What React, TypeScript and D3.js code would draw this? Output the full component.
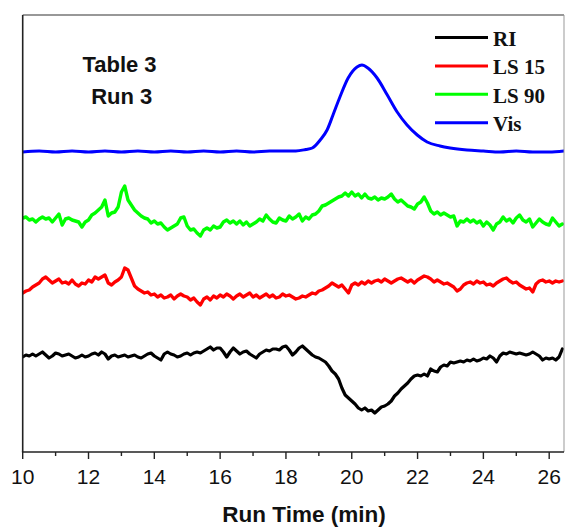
import React from "react";
import * as d3 from "d3";

// Sampling grid for the detector traces (min)
const T_START = 10.0;
const T_STEP = 0.1;
const N_SAMPLES = 165;
const sampleTimes: number[] = d3.range(N_SAMPLES).map((i) => +(T_START + i * T_STEP).toFixed(2));

// LS 90 (green) detector response, relative units
const ls90: number[] = [
  23.4, 23.5, 23.2, 23.3, 23.0, 23.3, 23.5, 23.3, 23.4, 23.0,
  23.4, 23.8, 22.7, 23.3, 23.4, 23.2, 23.1, 23.0, 22.5, 23.0,
  23.2, 23.7, 23.9, 24.2, 24.5, 25.2, 23.6, 23.9, 24.0, 24.5,
  26.0, 26.6, 25.2, 24.7, 24.2, 23.9, 23.6, 23.4, 23.3, 22.9,
  23.1, 22.8, 22.9, 22.5, 22.2, 22.4, 22.6, 22.8, 23.4, 23.5,
  22.6, 22.2, 22.3, 21.9, 21.6, 22.2, 22.4, 22.2, 22.6, 22.4,
  22.5, 23.0, 23.2, 22.9, 23.1, 22.8, 23.1, 22.7, 23.0, 22.6,
  22.8, 23.0, 23.3, 23.1, 23.7, 23.3, 23.0, 22.9, 23.4, 23.2,
  23.1, 23.6, 23.3, 23.5, 23.8, 23.1, 23.5, 23.3, 23.7, 23.8,
  24.1, 24.6, 24.7, 24.9, 25.1, 25.3, 25.5, 25.6, 25.9, 25.6,
  26.0, 25.6, 25.8, 25.4, 25.8, 25.4, 25.3, 25.5, 25.2, 25.4,
  25.3, 25.5, 25.8, 25.3, 25.0, 25.2, 24.9, 24.6, 24.5, 24.3,
  24.8, 25.0, 25.5, 24.9, 24.1, 23.8, 24.0, 23.7, 23.9, 23.7,
  23.5, 23.6, 22.6, 23.1, 23.0, 23.3, 23.0, 23.2, 22.9, 23.1,
  22.6, 23.0, 22.7, 22.2, 22.8, 23.0, 23.5, 23.1, 23.3, 22.9,
  23.4, 23.7, 23.2, 23.0, 23.3, 22.5, 22.9, 23.3, 23.0, 22.8,
  22.7, 23.4, 23.0, 22.6, 22.8,
];

// LS 15 (red)
const ls15: number[] = [
  15.9, 16.1, 16.2, 16.5, 16.7, 16.9, 17.3, 17.5, 17.2, 16.9,
  17.1, 17.3, 16.9, 17.0, 16.8, 17.2, 16.8, 16.6, 16.9, 16.8,
  17.2, 17.0, 17.5, 17.3, 17.5, 17.7, 16.9, 16.7, 17.0, 17.2,
  17.5, 18.4, 18.2, 17.4, 16.6, 16.3, 16.1, 15.9, 16.0, 15.7,
  15.8, 15.5, 15.7, 15.4, 15.5, 15.7, 15.3, 15.6, 15.8, 15.6,
  15.5, 15.2, 15.4, 15.0, 14.7, 15.3, 15.5, 15.2, 15.6, 15.4,
  15.7, 15.5, 15.8, 15.6, 15.3, 15.6, 15.8, 15.5, 15.7, 15.9,
  15.5, 15.7, 15.4, 15.6, 15.8, 15.5, 15.7, 15.4, 15.5, 15.8,
  15.6, 15.7, 15.5, 15.3, 15.4, 15.6, 15.5, 15.7, 15.9, 15.8,
  16.1, 16.2, 16.4, 16.6, 16.9, 16.7, 16.5, 16.7, 16.3, 15.9,
  16.7, 16.9, 16.7, 17.0, 16.8, 17.1, 16.9, 17.1, 17.2, 17.0,
  17.3, 17.1, 16.9, 17.1, 17.3, 17.4, 17.2, 17.0, 17.2, 16.9,
  17.2, 17.4, 17.6, 17.5, 17.3, 17.0, 17.2, 17.0, 16.8, 16.9,
  16.7, 16.5, 16.1, 16.3, 16.7, 16.9, 17.0, 16.8, 17.1, 16.9,
  17.0, 16.7, 16.8, 16.6, 16.9, 17.1, 17.3, 17.4, 17.1, 16.9,
  17.0, 16.7, 16.5, 16.3, 16.4, 16.0, 16.8, 17.1, 17.2, 17.0,
  17.1, 16.9, 17.1, 17.0, 17.1,
];

// RI (black)
const ri: number[] = [
  9.5, 9.7, 9.6, 9.8, 9.6, 9.8, 10.0, 9.7, 9.4, 9.6,
  9.9, 9.8, 9.6, 9.7, 9.8, 9.6, 9.4, 9.5, 9.7, 9.5,
  9.6, 9.8, 9.9, 9.7, 10.0, 9.8, 9.3, 9.6, 9.7, 9.5,
  9.6, 9.7, 9.5, 9.6, 9.7, 9.5, 9.4, 9.6, 9.8, 9.9,
  9.6, 9.4, 9.2, 9.8, 10.0, 9.8, 9.7, 9.5, 9.6, 9.8,
  9.9, 9.7, 9.9, 10.0, 9.9, 10.1, 10.3, 10.5, 10.2, 10.4,
  10.4, 10.0, 9.5, 10.0, 10.4, 10.1, 9.8, 10.0, 10.1, 9.8,
  9.6, 9.4, 9.8, 10.0, 10.2, 10.1, 10.3, 10.3, 10.2, 10.5,
  10.6, 10.2, 9.7, 10.0, 10.4, 10.6, 10.3, 10.0, 9.7, 9.5,
  9.4, 9.2, 9.0, 8.6, 8.1, 7.8, 7.3, 6.4, 5.7, 5.4,
  5.1, 4.8, 4.4, 4.2, 4.4, 4.1, 4.2, 3.9, 4.2, 4.5,
  4.6, 4.8, 5.1, 5.6, 5.9, 6.3, 6.6, 6.9, 7.3, 7.6,
  7.7, 7.6, 7.8, 7.6, 8.3, 8.1, 8.0, 8.5, 8.7, 8.6,
  9.0, 8.9, 9.0, 9.1, 9.0, 9.2, 9.1, 9.3, 9.1, 9.2,
  9.4, 9.3, 9.6, 9.4, 9.0, 9.6, 9.9, 9.8, 10.0, 9.9,
  9.8, 9.9, 9.8, 9.7, 9.8, 10.0, 9.8, 9.6, 9.2, 9.4,
  9.3, 9.4, 9.2, 9.5, 10.3,
];

// Vis (blue) – smooth trace, its own time points
const visTimes: number[] = [
  10.0, 10.5, 11.0, 11.5, 12.0, 12.5, 13.0, 13.5, 14.0, 14.5, 15.0, 15.5, 16.0,
  16.5, 17.0, 17.5, 18.0, 18.3, 18.6, 18.8, 19.04, 19.25, 19.43, 19.64, 19.89,
  20.16, 20.31, 20.49, 20.77, 21.08, 21.38, 21.68, 21.99, 22.29, 22.68, 22.99,
  23.5, 24.0, 24.5, 25.0, 25.5, 26.0, 26.45,
];
const vis: number[] = [
  30.0, 30.1, 30.0, 30.1, 30.0, 30.1, 30.0, 30.1, 30.0, 30.1, 30.0, 30.1, 30.0,
  30.1, 30.0, 30.1, 30.1, 30.1, 30.25, 30.4, 31.2, 32.2, 33.7, 35.5, 37.4,
  38.5, 38.7, 38.4, 37.4, 35.7, 34.0, 32.7, 31.7, 31.0, 30.6, 30.4,
  30.2, 30.1, 30.0, 30.1, 30.0, 30.0, 30.1,
];

const majorTicks: number[] = [10, 12, 14, 16, 18, 20, 22, 24, 26];
const minorTicks: number[] = [11, 13, 15, 17, 19, 21, 23, 25];

const legendLabels: string[] = ["RI", "LS 15", "LS 90", "Vis"];
const seriesColors: string[] = ["#000000", "#ff0000", "#00ff00", "#0000ff"];

const W = 565;
const H = 527;
const M = { left: 22.7, right: 564, top: 15, bottom: 452 };

export default function App() {
  const x = d3.scaleLinear().domain([10, 26.45]).range([M.left, M.right]);
  const y = d3.scaleLinear().domain([0, 43.7]).range([M.bottom, M.top]);

  const noisyLine = d3
    .line<[number, number]>()
    .x((d) => x(d[0]))
    .y((d) => y(d[1]));
  const smoothLine = d3
    .line<[number, number]>()
    .x((d) => x(d[0]))
    .y((d) => y(d[1]))
    .curve(d3.curveMonotoneX);

  const zipT = (vals: number[]) => vals.map((v, i) => [sampleTimes[i], v] as [number, number]);
  const paths = [
    { d: noisyLine(zipT(ri)), color: seriesColors[0], w: 3.2 },
    { d: noisyLine(zipT(ls15)), color: seriesColors[1], w: 3.3 },
    { d: noisyLine(zipT(ls90)), color: seriesColors[2], w: 3.4 },
    { d: smoothLine(visTimes.map((t, i) => [t, vis[i]] as [number, number])), color: seriesColors[3], w: 3 },
  ];

  const sans = "'Liberation Sans', Arial, sans-serif";
  const serif = "'Liberation Serif', 'Times New Roman', serif";

  return (
    <svg
      width={W}
      height={H}
      viewBox={`0 0 ${W} ${H}`}
      style={{ position: "absolute", left: 0, top: 0, display: "block", background: "#fff" }}
    >
      <defs>
        <clipPath id="plot">
          <rect x={M.left} y={M.top} width={M.right - M.left} height={M.bottom - M.top} />
        </clipPath>
      </defs>
      <rect x={0} y={0} width={W} height={H} fill="#fff" />
      <g clipPath="url(#plot)">
        {paths.map((p, i) => (
          <path
            key={i}
            d={p.d || ""}
            fill="none"
            stroke={p.color}
            strokeWidth={p.w}
            strokeLinejoin="round"
            strokeLinecap="round"
          />
        ))}
      </g>
      {/* frame */}
      <line x1={M.left} x2={M.right} y1={M.top} y2={M.top} stroke="#333" strokeWidth={1.2} />
      <line x1={M.right} x2={M.right} y1={M.top} y2={M.bottom} stroke="#999" strokeWidth={1} />
      <line x1={M.left} x2={M.left} y1={M.top} y2={M.bottom} stroke="#222" strokeWidth={1.6} />
      <line x1={M.left - 0.8} x2={M.right} y1={M.bottom} y2={M.bottom} stroke="#222" strokeWidth={1.6} />
      {majorTicks.map((t) => (
        <g key={"M" + t}>
          <line x1={x(t)} x2={x(t)} y1={M.bottom} y2={M.bottom + 7} stroke="#222" strokeWidth={1.4} />
          <text x={x(t)} y={484} textAnchor="middle" fontFamily={sans} fontSize={21} fill="#111">
            {t}
          </text>
        </g>
      ))}
      {minorTicks.map((t) => (
        <line key={"m" + t} x1={x(t)} x2={x(t)} y1={M.bottom} y2={M.bottom + 4} stroke="#222" strokeWidth={1.4} />
      ))}
      <text x={304} y={522} textAnchor="middle" fontFamily={sans} fontWeight="bold" fontSize={22.5} fill="#111">
        Run Time (min)
      </text>
      <text x={119.5} y={72} textAnchor="middle" fontFamily={sans} fontWeight="bold" fontSize={22} fill="#111">
        Table 3
      </text>
      <text x={121.7} y={104} textAnchor="middle" fontFamily={sans} fontWeight="bold" fontSize={22} fill="#111">
        Run 3
      </text>
      {legendLabels.map((lab, i) => {
        const by = 46 + i * 28.4;
        return (
          <g key={lab}>
            <line x1={435} x2={488} y1={by - 8.5} y2={by - 8.5} stroke={seriesColors[i]} strokeWidth={3} />
            <text x={493} y={by} fontFamily={serif} fontWeight="bold" fontSize={21} fill="#111">
              {lab}
            </text>
          </g>
        );
      })}
    </svg>
  );
}
